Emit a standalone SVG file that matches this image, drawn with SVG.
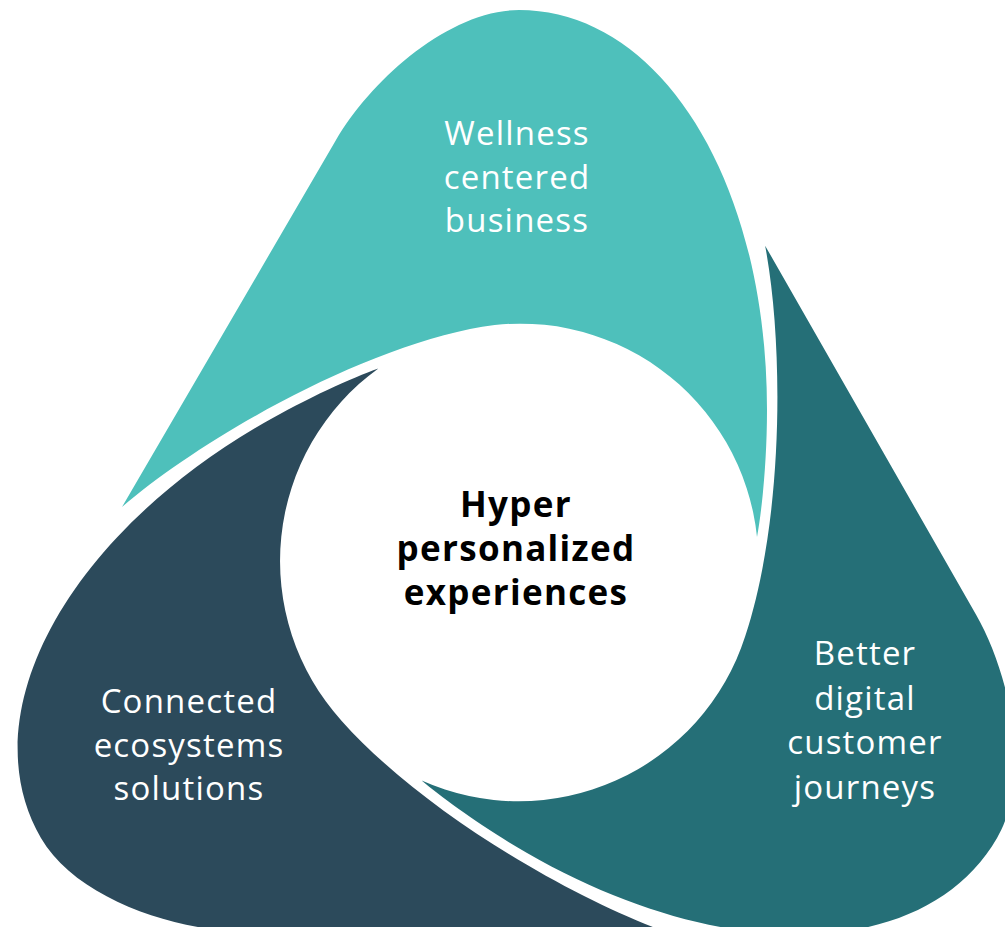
<svg xmlns="http://www.w3.org/2000/svg" xmlns:xlink="http://www.w3.org/1999/xlink" width="1005" height="927" viewBox="0 0 1005 927">
  <style>
    .lbl { font-family: "Open Sans", "Noto Sans", "DejaVu Sans", sans-serif; font-size: 33px; letter-spacing: 1.2px; fill: #ffffff; text-anchor: middle; }
    .center { font-family: "Open Sans", "Noto Sans", "DejaVu Sans", sans-serif; font-size: 35px; letter-spacing: 1.3px; font-weight: bold; fill: #000000; text-anchor: middle; }
  </style>
  <defs>
    <path id="petal" d="M122,507 L336,140 C371,80 449,10 519,10 C660,10 767,180 767,410 C767,460 762,510 757,537 A238,238 0 0 0 470,329 C350,354 200,440 122,507 Z"/>
  </defs>
  <rect width="1005" height="927" fill="#ffffff"/>
  <g id="connectors"/>
  <g id="node-wellness">
    <use xlink:href="#petal" href="#petal" fill="#4ec0bb"/>
    <text class="lbl" x="517" y="145">Wellness</text>
    <text class="lbl" x="517" y="189">centered</text>
    <text class="lbl" x="517" y="232">business</text>
  </g>
  <g id="node-digital">
    <use xlink:href="#petal" href="#petal" fill="#256f77" transform="rotate(120 519 562)"/>
    <text class="lbl" x="865" y="665">Better</text>
    <text class="lbl" x="865" y="710">digital</text>
    <text class="lbl" x="865" y="754">customer</text>
    <text class="lbl" x="865" y="799">journeys</text>
  </g>
  <g id="node-ecosystems">
    <use xlink:href="#petal" href="#petal" fill="#2c4a5b" transform="rotate(240 519 562)"/>
    <text class="lbl" x="189" y="713">Connected</text>
    <text class="lbl" x="189" y="757">ecosystems</text>
    <text class="lbl" x="189" y="800">solutions</text>
  </g>
  <g id="node-center">
    <text class="center" x="516" y="517">Hyper</text>
    <text class="center" x="516" y="561">personalized</text>
    <text class="center" x="516" y="605">experiences</text>
  </g>
</svg>
